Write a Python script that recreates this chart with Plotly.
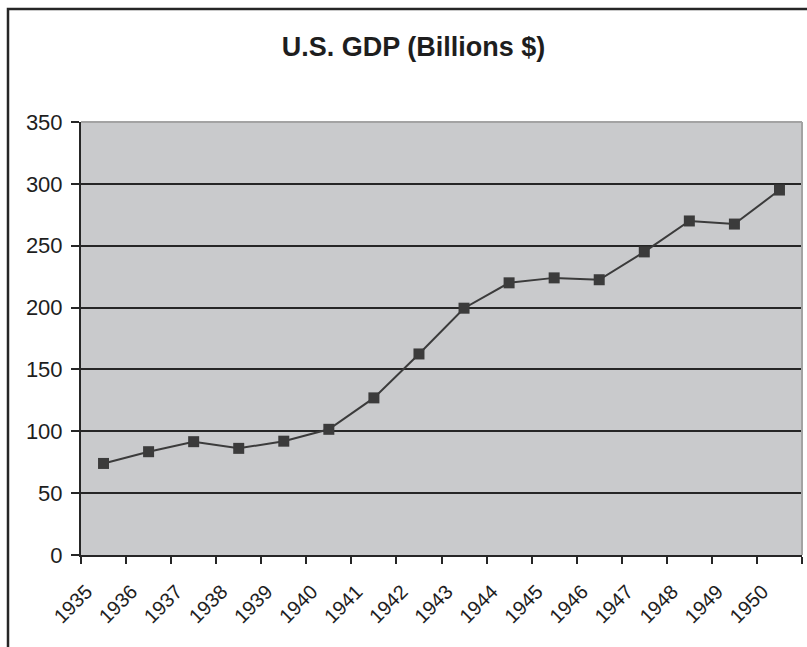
import plotly.graph_objects as go

years = ["1935", "1936", "1937", "1938", "1939", "1940", "1941", "1942",
         "1943", "1944", "1945", "1946", "1947", "1948", "1949", "1950"]
gdp = [74, 83.5, 91.6, 86.2, 92, 101.6, 127, 162.5,
       199.5, 220, 224, 222.5, 245, 270, 267.5, 295]
y_ticks = [0, 50, 100, 150, 200, 250, 300, 350]

W, H = 807, 647
L, R, T, B = 81, 5, 122, 92
pw, ph = W - L - R, H - T - B

dark = "#262626"
mark = "#3b3b3b"
font = "Liberation Sans, Arial, sans-serif"

fig = go.Figure()
fig.add_trace(go.Scatter(
    x=years, y=gdp, mode="lines+markers",
    line=dict(color=mark, width=2),
    marker=dict(symbol="square", size=11, color=mark, line=dict(width=0)),
    showlegend=False, hoverinfo="x+y",
))

# chart frame (extends beyond right/bottom like the cropped original)
fx0 = (8 - L) / pw
fy1 = (H - B - 9) / ph
fig.add_shape(type="rect", xref="paper", yref="paper",
              x0=fx0, x1=1.2, y0=-0.6, y1=fy1,
              line=dict(color=dark, width=2.5), layer="below")
# plot-area top/right edges in gray
fig.add_shape(type="line", xref="paper", yref="paper", x0=0, x1=1, y0=1, y1=1,
              line=dict(color="#a3a3a3", width=2), layer="above")
fig.add_shape(type="line", xref="paper", yref="paper", x0=1, x1=1, y0=0, y1=1,
              line=dict(color="#a3a3a3", width=2), layer="above")

fig.update_layout(
    width=W, height=H,
    margin=dict(l=L, r=R, t=T, b=B),
    paper_bgcolor="white",
    plot_bgcolor="#c9cacc",
    font=dict(family=font, color="#1e1e1e", size=22),
    title=dict(text="<b>U.S. GDP (Billions $)</b>", xref="container", yref="container",
               x=413.5 / W, y=1 - 47 / H, xanchor="center", yanchor="middle",
               font=dict(size=27, family=font, color="#1e1e1e")),
)
fig.update_xaxes(
    type="category", categoryorder="array", categoryarray=years,
    range=[-0.5, 15.5], tickson="boundaries",
    ticks="outside", ticklen=7, tickwidth=2, tickcolor=dark,
    showline=True, linecolor=dark, linewidth=2,
    showgrid=False, tickangle=-45, ticklabelshift=-17, ticklabelstandoff=15,
    tickfont=dict(size=20, family=font, color="#1e1e1e"),
)
fig.update_yaxes(
    range=[0, 350], tickvals=y_ticks,
    ticks="outside", ticklen=8, tickwidth=2, tickcolor=dark,
    showline=True, linecolor=dark, linewidth=2,
    showgrid=True, gridcolor=dark, gridwidth=2, zeroline=False,
    ticklabelstandoff=4,
    tickfont=dict(size=22, family=font, color="#1e1e1e"),
)

fig.write_html("out.html")
